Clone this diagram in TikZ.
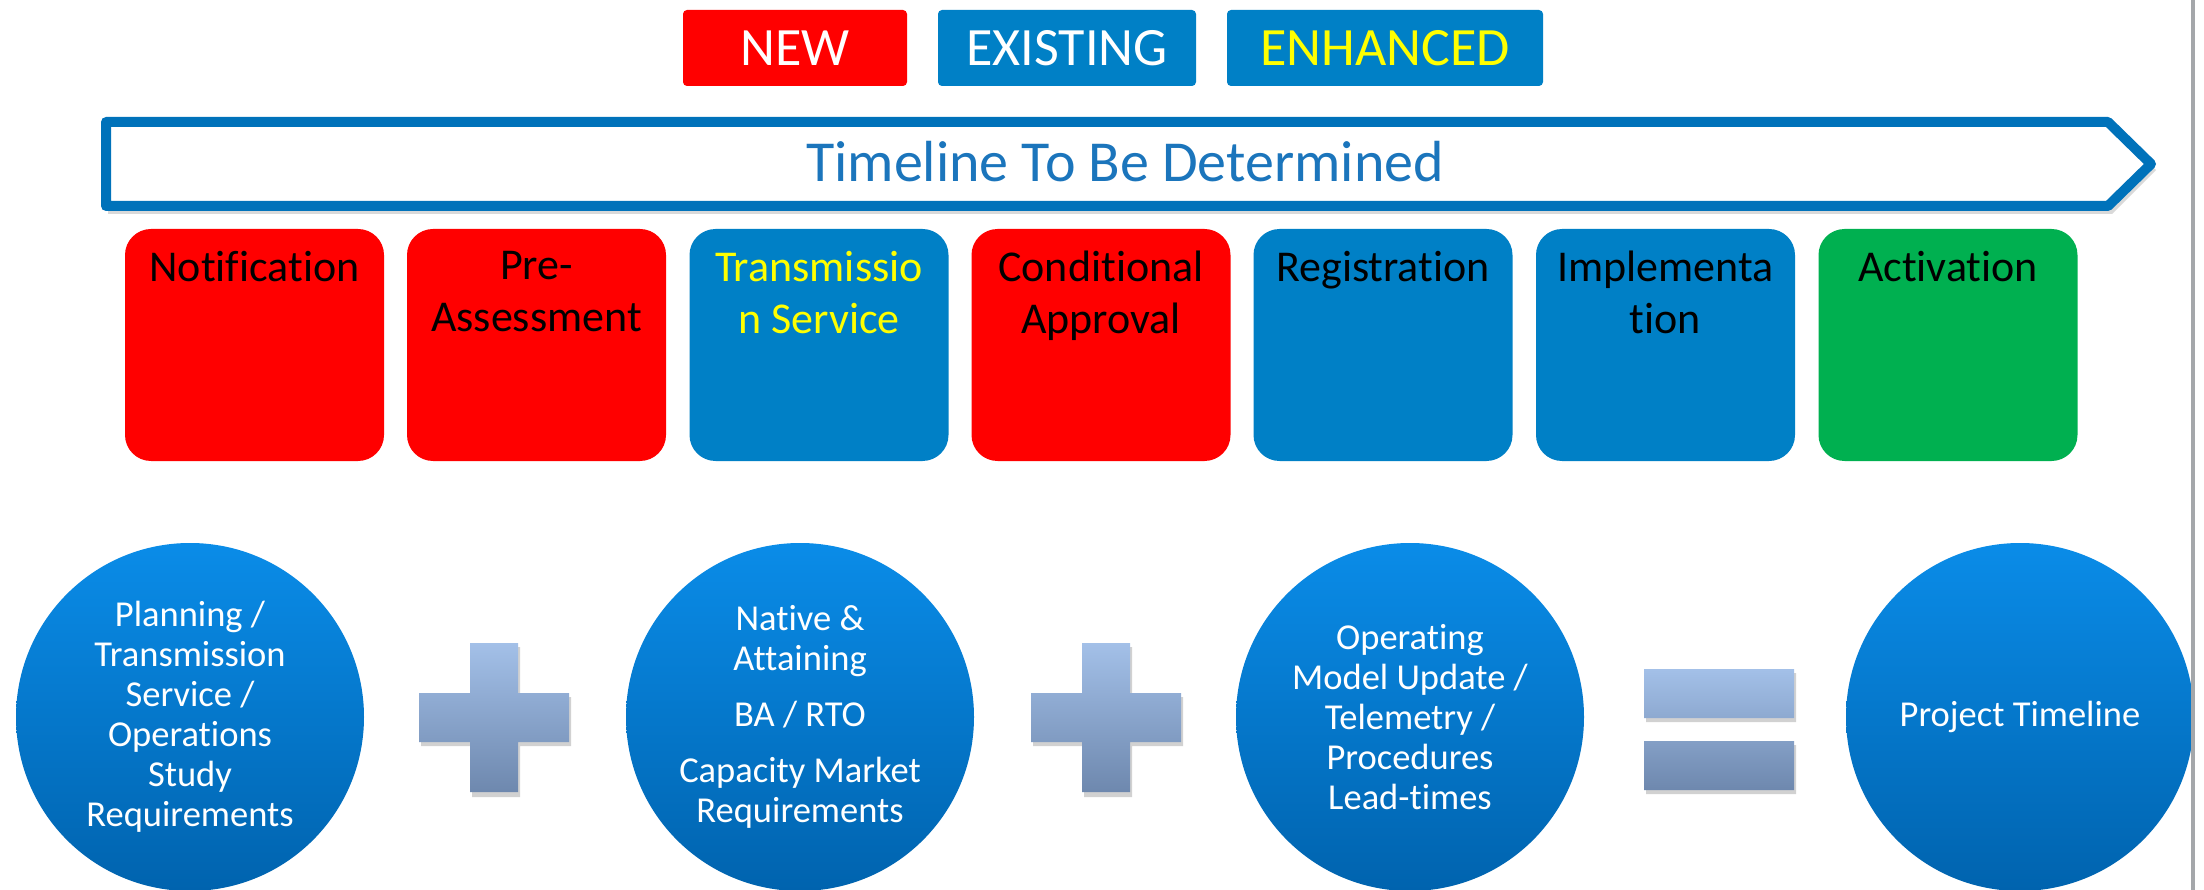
\documentclass[tikz,border=0pt]{standalone}
\usepackage{fontspec}
\setmainfont{Carlito}[Ligatures={NoCommon}]
\usetikzlibrary{shadows}
\definecolor{cred}{HTML}{FF0000}
\definecolor{cblue}{HTML}{0080C6}
\definecolor{cgreen}{HTML}{00B050}
\definecolor{arrowblue}{HTML}{0072BA}
\definecolor{tltext}{HTML}{1B75BC}
\definecolor{cyel}{HTML}{FFFF00}
\definecolor{circtop}{HTML}{0A8CE8}
\definecolor{circbot}{HTML}{0063AE}
\definecolor{optop}{HTML}{A3C0E8}
\definecolor{opbot}{HTML}{6E88AE}
\definecolor{edgegray}{HTML}{A4A7AA}
\begin{document}
\begin{tikzpicture}[x=1pt,y=-1pt,
  legendbox/.style={rectangle, rounded corners=4pt, minimum height=76pt, inner sep=0pt, font=\fontsize{54}{60}\selectfont},
  stagebox/.style={rectangle, rounded corners=26pt, minimum width=259pt, minimum height=232pt, inner sep=0pt},
  stagetext/.style={anchor=north, align=center, inner sep=0pt, font=\fontsize{44}{52}\selectfont},
  bubble/.style={circle, minimum size=348pt, inner sep=0pt, top color=circtop, bottom color=circbot, text=white, align=center, font=\fontsize{36.5}{40}\selectfont},
  opshape/.style={top color=optop, bottom color=opbot},
  opshadow/.style={fill=black, opacity=0.18}
]
\useasboundingbox (0,0) rectangle (2204,890);
\fill[white] (0,0) rectangle (2204,890);

% legend
\node[legendbox, fill=cred, text=white, minimum width=224pt] (lnew) at (795,48) {NEW};
\node[legendbox, fill=cblue, text=white, minimum width=258pt] (lexist) at (1067,48) {EXISTING};
\node[legendbox, fill=cblue, text=cyel, minimum width=316pt] (lenh) at (1385,48) {ENHANCED};

% timeline arrow
\fill[black, opacity=0.15] (108,128) -- (2112,128) -- (2156,170) -- (2112,214) -- (108,214) -- cycle;
\draw[line width=10pt, arrowblue, fill=white, line join=round] (106,122) -- (2108,122) -- (2151,164) -- (2108,206) -- (106,206) -- cycle;
\node[text=tltext, font=\fontsize{58}{62}\selectfont, inner sep=0pt] (tl) at (1125,162) {Timeline To Be Determined};

% stage boxes
\node[stagebox, fill=cred]   (s1) at (254.5,345) {};
\node[stagebox, fill=cred]   (s2) at (536.5,345) {};
\node[stagebox, fill=cblue]  (s3) at (819,345) {};
\node[stagebox, fill=cred]   (s4) at (1101,345) {};
\node[stagebox, fill=cblue]  (s5) at (1383,345) {};
\node[stagebox, fill=cblue]  (s6) at (1665.5,345) {};
\node[stagebox, fill=cgreen] (s7) at (1948,345) {};

\node[stagetext] (t1) at ([yshift=-22pt]s1.north) {Notification};
\node[stagetext] (t2) at ([yshift=-22pt]s2.north) {Pre-\\Assessment};
\node[stagetext, text=cyel] (t3) at ([yshift=-22pt]s3.north) {Transmissio\\n Service};
\node[stagetext] (t4) at ([yshift=-22pt]s4.north) {Conditional\\Approval};
\node[stagetext] (t5) at ([yshift=-22pt]s5.north) {Registration};
\node[stagetext] (t6) at ([yshift=-22pt]s6.north) {Implementa\\tion};
\node[stagetext] (t7) at ([yshift=-22pt]s7.north) {Activation};

% bubbles
\node[bubble] (c1) at (190,717) {Planning /\\Transmission\\Service /\\Operations\\Study\\Requirements};
\node[bubble] (c2) at (800,717) {Native \&\\Attaining\\[16pt]BA / RTO\\[16pt]Capacity Market\\Requirements};
\node[bubble] (c3) at (1410,717) {Operating\\Model Update /\\Telemetry /\\Procedures\\Lead-times};
\node[bubble] (c4) at (2020,717) {Project Timeline};

% plus signs
\foreach \dx in {0,612}{
  \begin{scope}[xshift=\dx pt]
  \fill[opshadow] (472,647) -- (520,647) -- (520,697) -- (571,697) -- (571,746) -- (520,746) -- (520,797) -- (472,797) -- (472,746) -- (421,746) -- (421,697) -- (472,697) -- cycle;
  \shade[opshape] (470,643) -- (518,643) -- (518,693) -- (569,693) -- (569,742) -- (518,742) -- (518,792) -- (470,792) -- (470,742) -- (419,742) -- (419,693) -- (470,693) -- cycle;
  \end{scope}
}
% equals sign
\fill[opshadow] (1646,673) rectangle (1796,722) (1646,745) rectangle (1796,794);
\shade[opshape] (1644,669) rectangle (1794,718) (1644,741) rectangle (1794,790);

% right edge line
\draw[line width=4pt, edgegray] (2193,0) -- (2193,890);
\end{tikzpicture}
\end{document}
